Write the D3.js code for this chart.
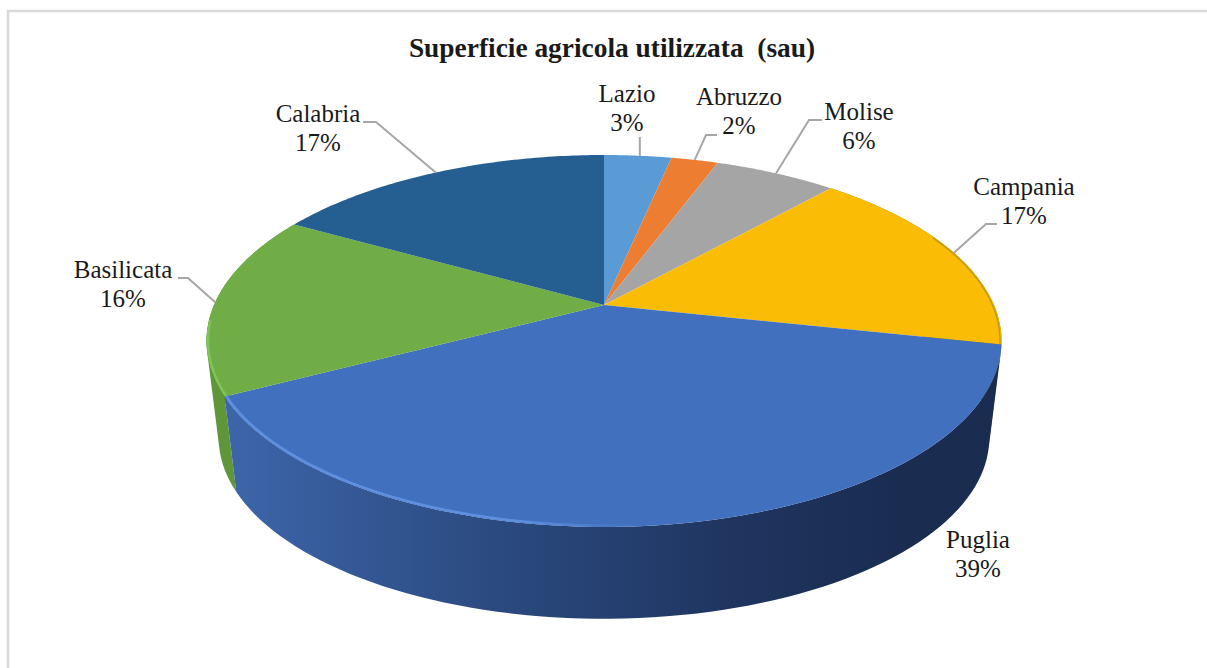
<!DOCTYPE html>
<html>
<head>
<meta charset="utf-8">
<script src="https://cdn.jsdelivr.net/npm/d3@7"></script>
<style>
  html, body { margin: 0; padding: 0; background: #fff; overflow: hidden; }
  text { font-family: "Liberation Serif", serif; fill: #1a1a1a; }
</style>
</head>
<body>
<svg width="1207" height="668"></svg>
<script>
const chartTitle = "Superficie agricola utilizzata  (sau)";
const regions = ["Lazio", "Abruzzo", "Molise", "Campania", "Puglia", "Basilicata", "Calabria"];
const shares = [3.3, 2.3, 6.0, 16.8, 38.9, 15.9, 16.8];
const sliceColors = ["#5b9bd5", "#ed7d31", "#a5a5a5", "#fbbc05", "#4070be", "#70ad47", "#255e91"];
// where the labels and their elbows go, same order as regions
const labelX = [627, 739, 859, 1024, 978, 123, 318];
const labelY = [102, 105, 120, 195, 548, 278, 122];
const elbows = [null, [[717, 135], [706, 135]], [[822, 120], [809, 120]], [[997, 224], [986, 224]], null, [[178, 278], [188, 278]], [[363, 122], [376, 122]]];

const svg = d3.select("svg");

// tilted pie: perspective of a disc, apex is not in the middle of the ellipse
const cx = 604, k = 0.1935;
const topRim = { A: 390, B: 179, y0: 305 };
const botRim = { A: 378, B: 174, y0: 403 };

function project(a, rim) {
  let u = Math.sin(a), v = Math.cos(a), w = 1 + k * v;
  return [cx + rim.A * u / w, rim.y0 - rim.B * v / w];
}

function rimPoints(a0, a1, rim) {
  return d3.range(0, 81).map(i => project(a0 + (a1 - a0) * i / 80, rim));
}

const pie = d3.pie().sort(null).value(d => d);
const arcs = pie(shares);
const line = d3.line();
const format = d3.format(".0f");

const defs = svg.append("defs");

function gradient(id, x1, x2, stops) {
  let g = defs.append("linearGradient").attr("id", id)
    .attr("gradientUnits", "userSpaceOnUse")
    .attr("x1", x1).attr("x2", x2).attr("y1", 0).attr("y2", 0);
  stops.forEach(s => g.append("stop").attr("offset", s[0]).attr("stop-color", s[1]).attr("stop-opacity", s[2] === undefined ? 1 : s[2]));
}

gradient("wallPuglia", 225, 900, [[0, "#3d66aa"], [0.4, "#2b4a80"], [0.75, "#1f3560"], [1, "#1a2c50"]]);
gradient("rimPuglia", 225, 640, [[0, "#5f90e0"], [0.7, "#5f90e0"], [1, "#5f90e0", 0]]);

// frame, only left and top show in the crop
svg.append("path")
  .attr("d", "M8,668V11H1207")
  .attr("fill", "none")
  .attr("stroke", "#d9d9d9")
  .attr("stroke-width", 2.5);

svg.append("text")
  .attr("x", 612).attr("y", 57)
  .attr("text-anchor", "middle")
  .attr("font-weight", "bold")
  .attr("font-size", 27.4)
  .style("white-space", "pre")
  .text(chartTitle);

// side walls, back to front so Puglia goes last
// quads all wound the same way in one path, else the fill cancels where the rim folds over
const wallFills = { Campania: "#a87f00", Basilicata: "#5f9639", Puglia: "url(#wallPuglia)" };
["Campania", "Basilicata", "Puglia"].forEach(name => {
  let d = arcs[regions.indexOf(name)];
  let a = rimPoints(d.startAngle, d.endAngle, topRim);
  let b = rimPoints(d.startAngle, d.endAngle, botRim);
  let path = d3.range(0, 80).map(i => {
    let quad = [a[i], a[i + 1], b[i + 1], b[i]];
    if (d3.polygonArea(quad) < 0) quad.reverse();
    return line(quad) + "Z";
  }).join("");
  svg.append("path")
    .attr("d", path)
    .attr("fill", wallFills[name])
    .attr("fill-rule", "nonzero");
});

// top faces
svg.selectAll("path.slice")
  .data(arcs)
  .enter()
  .append("path")
  .attr("class", "slice")
  .attr("d", d => line([[cx, topRim.y0]].concat(rimPoints(d.startAngle, d.endAngle, topRim))) + "Z")
  .attr("fill", (d, i) => sliceColors[i]);

// bevel highlights on the front rim
function bevel(name, from, to, color, width) {
  let d = arcs[regions.indexOf(name)];
  let span = d.endAngle - d.startAngle;
  let inner = { A: topRim.A - 1.5, B: topRim.B - 1.2, y0: topRim.y0 };
  svg.append("path")
    .attr("d", line(rimPoints(d.startAngle + span * from, d.startAngle + span * to, inner)))
    .attr("fill", "none")
    .attr("stroke", color)
    .attr("stroke-width", width);
}
bevel("Puglia", 0.45, 1, "url(#rimPuglia)", 2.5);
bevel("Basilicata", 0, 0.4, "#7fc556", 2.5);
bevel("Campania", 0.4, 1, "#c09a10", 1.5);

// leader lines end on the rim at the middle of the slice
regions.forEach((r, i) => {
  if (!elbows[i] && r !== "Lazio") return;
  let mid = (arcs[i].startAngle + arcs[i].endAngle) / 2;
  let end = project(mid, topRim);
  let pts = r === "Lazio" ? [[end[0] + 2, labelY[i] + 35], [end[0] + 2, end[1]]] : elbows[i].concat([end]);
  svg.append("path")
    .attr("d", line(pts))
    .attr("fill", "none")
    .attr("stroke", "#a6a6a6")
    .attr("stroke-width", 2);
});

// labels
regions.forEach((r, i) => {
  let t = svg.append("text")
    .attr("text-anchor", "middle")
    .attr("font-size", 25);
  t.append("tspan").attr("x", labelX[i]).attr("y", labelY[i]).text(r);
  t.append("tspan").attr("x", labelX[i]).attr("y", labelY[i] + 29).text(format(shares[i]) + "%");
});
</script>
</body>
</html>
